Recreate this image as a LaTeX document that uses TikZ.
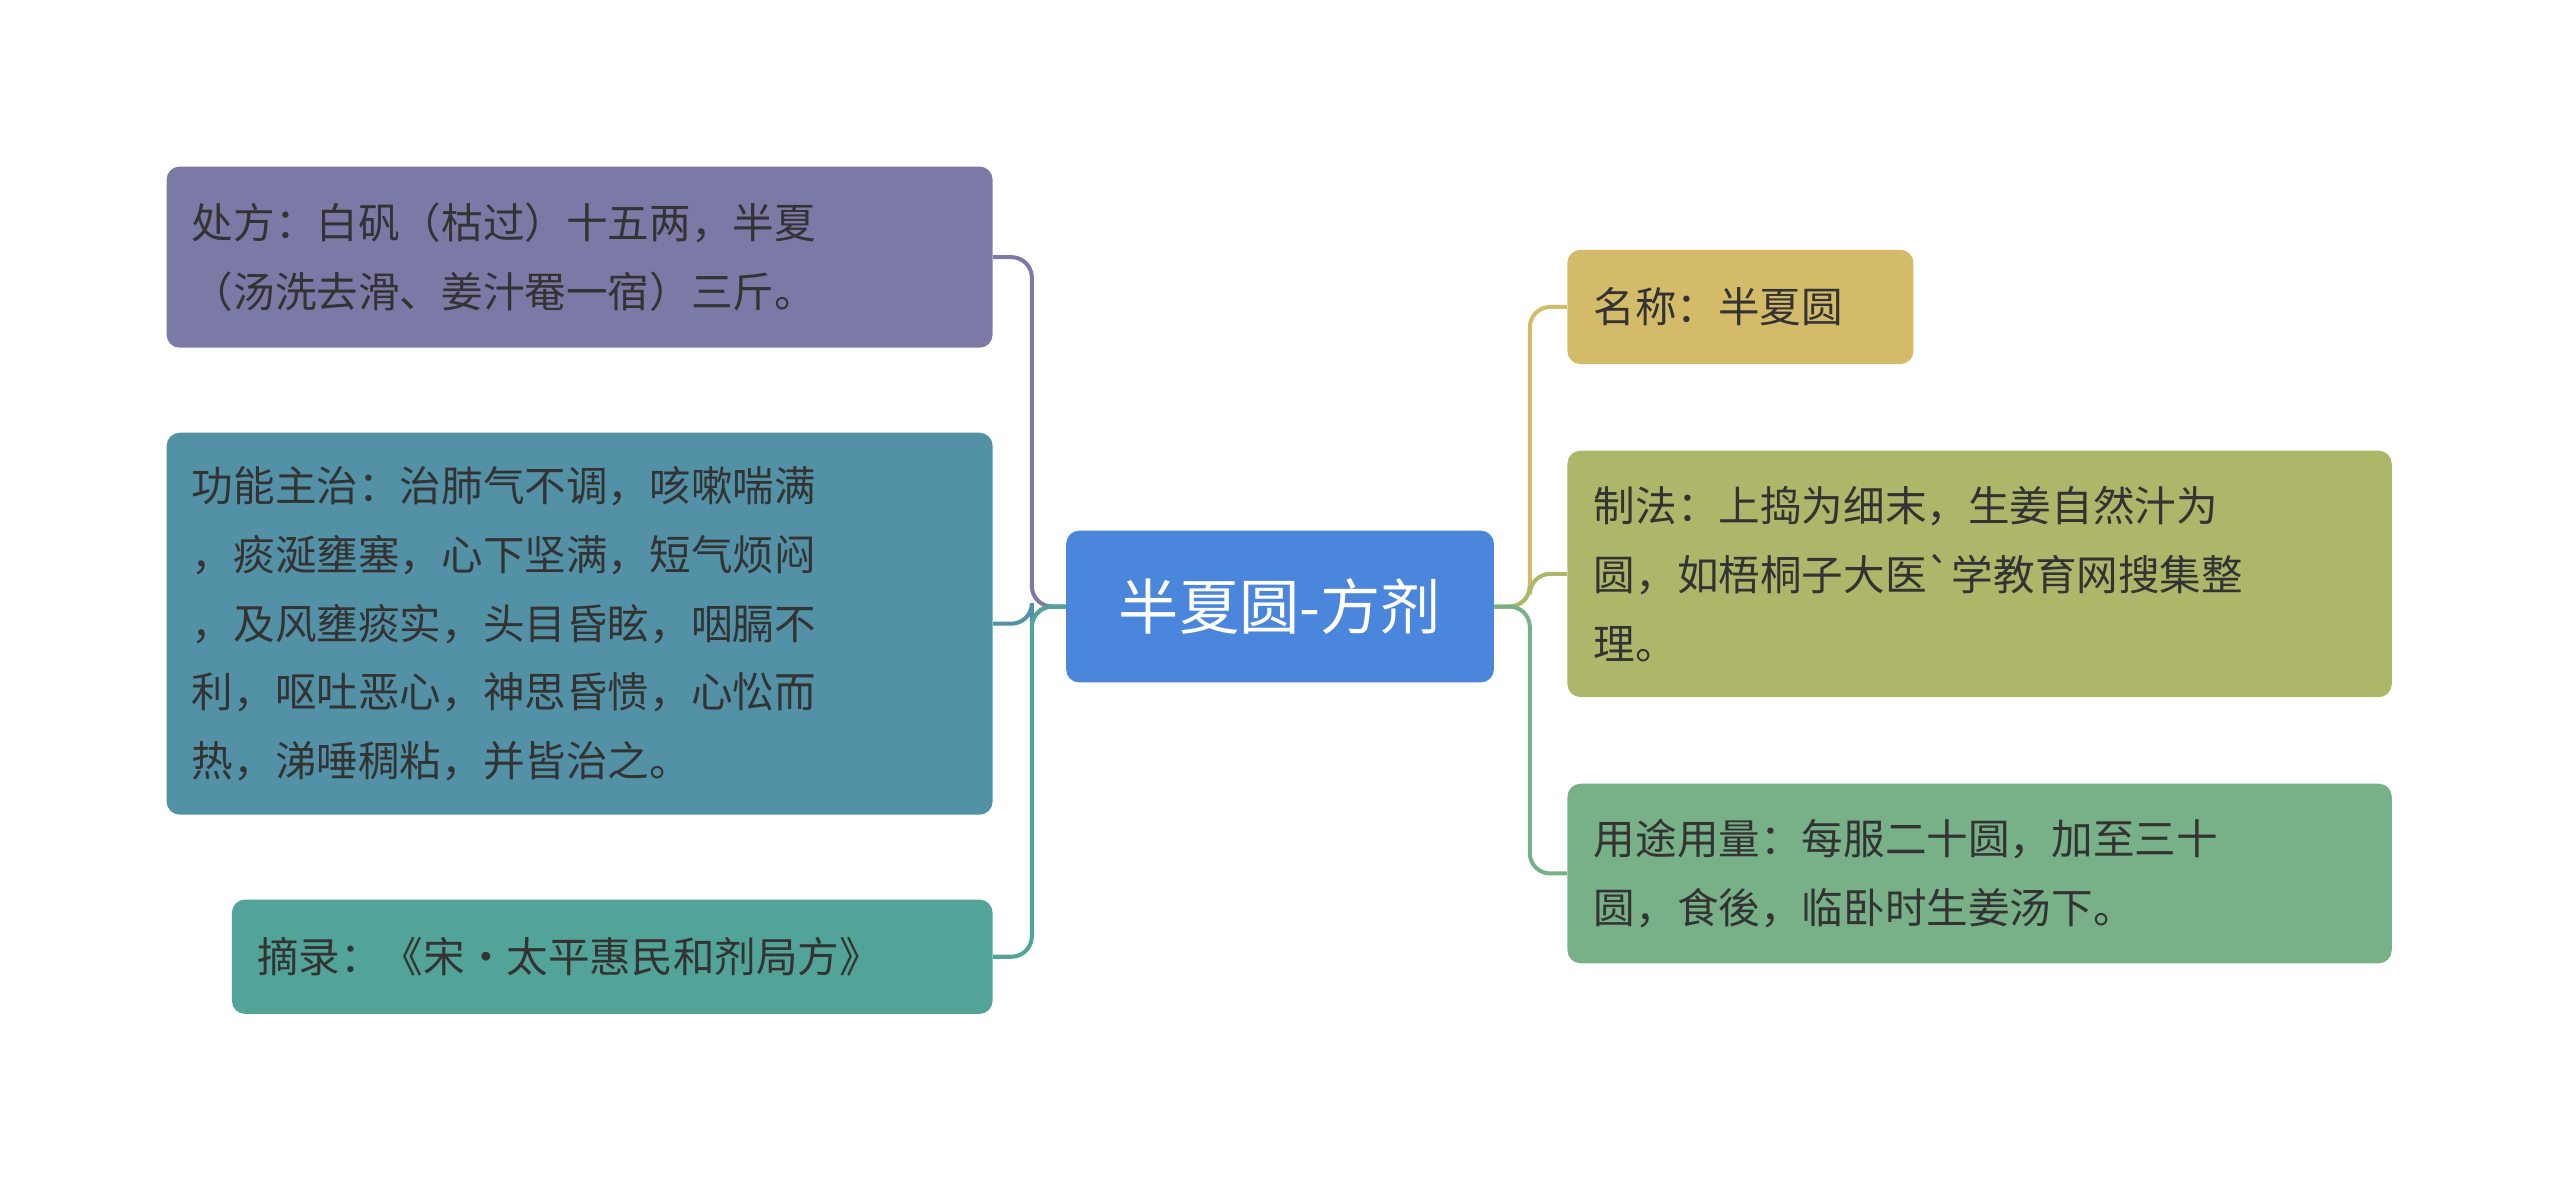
\documentclass[tikz,border=0pt]{standalone}
\usepackage{fontspec}
\newfontfamily\cjk{Noto Sans CJK SC}
\begin{document}
\begin{tikzpicture}[x=0.02cm,y=-0.02cm,
 box/.style={rounded corners=0.16cm,inner sep=0pt,font=\cjk\fontsize{14.5pt}{24pt}\selectfont,text=black!80,align=left},
 link/.style={line width=1.4pt,rounded corners=0.25cm}]
\useasboundingbox (0,0) rectangle (1568,724);
\definecolor{cA}{HTML}{7B7AA6}\definecolor{cB}{HTML}{5391A6}\definecolor{cC}{HTML}{52A398}
\definecolor{cD}{HTML}{D4BB6A}\definecolor{cE}{HTML}{AEB66A}\definecolor{cF}{HTML}{78B088}
\definecolor{cM}{HTML}{4A86DC}
\node[box,fill=cM,minimum width=5.24cm,minimum height=1.86cm,text=white,font=\cjk\fontsize{21pt}{26pt}\selectfont] (c) at (784,371.5) {半夏圆-方剂};
\node[box,fill=cA,minimum width=10.12cm,minimum height=2.22cm,text width=9.5cm] (n1) at (355,157.5) {处方：白矾（枯过）十五两，半夏\\（汤洗去滑、姜汁罨一宿）三斤。};
\node[box,fill=cB,minimum width=10.12cm,minimum height=4.68cm,text width=9.5cm] (n2) at (355,382) {功能主治：治肺气不调，咳嗽喘满\\，痰涎壅塞，心下坚满，短气烦闷\\，及风壅痰实，头目昏眩，咽膈不\\利，呕吐恶心，神思昏愦，心忪而\\热，涕唾稠粘，并皆治之。};
\node[box,fill=cC,minimum width=9.32cm,minimum height=1.4cm,text width=8.7cm] (n3) at (375,586) {摘录：《宋·太平惠民和剂局方》};
\node[box,fill=cD,minimum width=4.24cm,minimum height=1.4cm,text width=3.6cm] (n4) at (1066,188) {名称：半夏圆};
\node[box,fill=cE,minimum width=10.1cm,minimum height=3.02cm,text width=9.45cm] (n5) at (1212.5,351.5) {制法：上捣为细末，生姜自然汁为\\圆，如梧桐子大医`学教育网搜集整\\理。};
\node[box,fill=cF,minimum width=10.1cm,minimum height=2.2cm,text width=9.45cm] (n6) at (1212.5,535) {用途用量：每服二十圆，加至三十\\圆，食後，临卧时生姜汤下。};
\coordinate (L) at (632,371.5);
\coordinate (R) at (937,371.5);
\draw[link,cA] (c.west) -- (L) |- (n1.east);
\draw[link,cB] (c.west) -- (L) |- (n2.east);
\draw[link,cC] (c.west) -- (L) |- (n3.east);
\draw[link,cD] (c.east) -- (R) |- (n4.west);
\draw[link,cE] (c.east) -- (R) |- (n5.west);
\draw[link,cF] (c.east) -- (R) |- (n6.west);
\end{tikzpicture}
\end{document}
